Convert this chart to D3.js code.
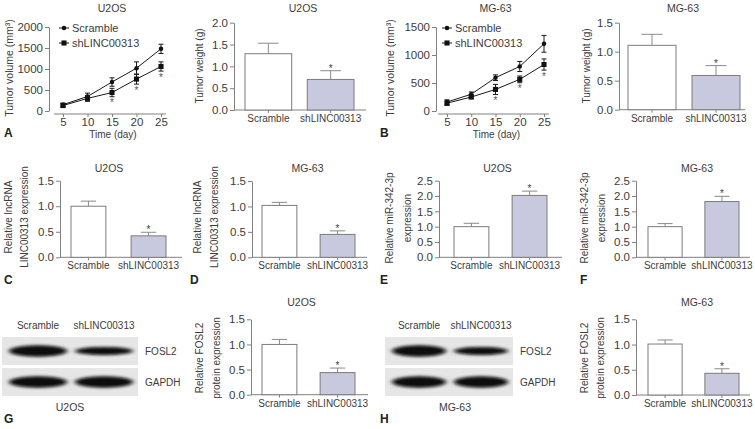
<!DOCTYPE html>
<html>
<head>
<meta charset="utf-8">
<script src="https://cdn.jsdelivr.net/npm/d3@7/dist/d3.min.js"></script>
<style>
  body { margin: 0; background: #fff; }
  svg text { font-family: "Liberation Sans", Arial, sans-serif; fill: #3c3c3c; }
  .axis path, .axis line { stroke: #808080; }
  .axis text { font-size: 11.5px; }
  .cat text { font-size: 10px; }
</style>
</head>
<body>
<svg id="fig" width="755" height="429"></svg>
<script>
const groups = ['Scramble', 'shLINC00313'];
const days = [5, 10, 15, 20, 25];
const sigDays = [15, 20, 25];

// tumour volume (mm3)
const u2osVolScr = [150, 345, 690, 1020, 1480];
const u2osVolScrErr = [40, 80, 100, 150, 110];
const u2osVolSh = [130, 300, 440, 760, 1060];
const u2osVolShErr = [40, 70, 100, 120, 110];
const mgVolScr = [160, 300, 595, 795, 1200];
const mgVolScrErr = [40, 40, 50, 90, 150];
const mgVolSh = [140, 250, 385, 565, 830];
const mgVolShErr = [40, 30, 90, 60, 100];

// tumour weight (g)
const u2osWeight = [1.29, 0.70];
const u2osWeightErr = [0.24, 0.20];
const mgWeight = [1.11, 0.59];
const mgWeightErr = [0.19, 0.17];

// relative lncRNA LINC00313
const u2osLnc = [1.0, 0.42];
const u2osLncErr = [0.1, 0.07];
const mgLnc = [1.02, 0.45];
const mgLncErr = [0.06, 0.07];

// relative miR-342-3p
const u2osMir = [1.0, 2.02];
const u2osMirErr = [0.11, 0.14];
const mgMir = [1.0, 1.82];
const mgMirErr = [0.1, 0.17];

// relative FOSL2 protein
const u2osFosl = [1.0, 0.44];
const u2osFoslErr = [0.1, 0.09];
const mgFosl = [1.01, 0.43];
const mgFoslErr = [0.08, 0.09];

// western blot band strength (relative)
const blotRows = ['FOSL2', 'GAPDH'];
const u2osBands = [[1.0, 0.7], [1.0, 1.0]];
const mgBands = [[1.0, 0.7], [1.0, 1.0]];

const svg = d3.select('#fig');

const defs = svg.append('defs');
defs.append('filter').attr('id', 'blur').attr('x', '-20%').attr('y', '-60%').attr('width', '140%').attr('height', '220%')
  .append('feGaussianBlur').attr('stdDeviation', '2.6 1.5');

function label(x, y, txt, size, opts = {}) {
  const t = svg.append('text').attr('x', x).attr('y', y)
    .attr('text-anchor', opts.anchor || 'middle')
    .style('font-size', size + 'px')
    .text(txt);
  if (opts.bold) t.style('font-weight', 'bold');
  if (opts.rotate) t.attr('transform', `rotate(-90,${x},${y})`);
  return t;
}

function barPanel(o) {
  const g = svg.append('g');
  const y = d3.scaleLinear().domain([0, o.max]).range([o.y0, o.yTop]);
  const x = d3.scaleBand().domain(groups).range(o.band).paddingInner(o.pad);

  g.append('g').attr('class', 'axis')
    .attr('transform', `translate(${o.ax},0)`)
    .call(d3.axisLeft(y).tickValues(d3.range(0, o.max + 0.001, 0.5))
      .tickFormat(d3.format('.1f')).tickSize(4).tickPadding(2).tickSizeOuter(0));

  const xg = g.append('g').attr('class', 'axis cat')
    .attr('transform', `translate(0,${o.y0})`)
    .call(d3.axisBottom(x).tickSize(3).tickPadding(2).tickSizeOuter(0));
  xg.select('.domain').remove();
  xg.append('line').attr('x1', o.ax).attr('x2', o.xEnd).attr('stroke', '#808080');

  // error bars (upper only)
  const cap = x.bandwidth() * 0.22;
  groups.forEach((d, i) => {
    const cx = x(d) + x.bandwidth() / 2;
    const top = y(o.vals[i] + o.err[i]);
    g.append('line').attr('x1', cx).attr('x2', cx)
      .attr('y1', y(o.vals[i])).attr('y2', top).attr('stroke', '#8a8a8a');
    g.append('line').attr('x1', cx - cap).attr('x2', cx + cap)
      .attr('y1', top).attr('y2', top).attr('stroke', '#8a8a8a');
  });

  g.selectAll('rect.bar').data(groups).join('rect')
    .attr('class', 'bar')
    .attr('x', d => x(d)).attr('width', x.bandwidth())
    .attr('y', (d, i) => y(o.vals[i]))
    .attr('height', (d, i) => o.y0 - y(o.vals[i]))
    .attr('fill', (d, i) => i ? '#c8c8df' : '#fff')
    .attr('stroke', '#7c7c7c');

  // significance mark over shLINC bar
  const sx = x(groups[1]) + x.bandwidth() / 2;
  label(sx, y(o.vals[1] + o.err[1]) + 1, '*', 10);

  label((o.ax + o.xEnd) / 2 + (o.tdx || 0), o.titleY, o.title, 10.5);
  o.ylab.forEach((t, k) => label(o.ylx[k], o.yly, t, 10, { rotate: true }));
}

function linePanel(o) {
  const g = svg.append('g');
  const x = d3.scaleLinear().domain([5, 25]).range(o.xr);
  const y = d3.scaleLinear().domain([0, o.max]).range([o.y0, o.yTop]);

  g.append('g').attr('class', 'axis')
    .attr('transform', `translate(${o.ax},0)`)
    .call(d3.axisLeft(y).tickValues(d3.range(0, o.max + 1, 500))
      .tickFormat(d3.format('d')).tickSize(4).tickPadding(2).tickSizeOuter(0));

  const xg = g.append('g').attr('class', 'axis')
    .attr('transform', `translate(0,${o.y0 + 3})`)
    .call(d3.axisBottom(x).tickValues(days).tickSize(3).tickPadding(1).tickSizeOuter(0));
  xg.select('.domain').remove();
  xg.append('line').attr('x1', o.xr[0] - 9).attr('x2', o.xr[1] + 5).attr('stroke', '#808080');

  const series = [
    { vals: o.scr, err: o.scrErr, shape: 'circle' },
    { vals: o.sh, err: o.shErr, shape: 'square' }
  ];
  const line = d3.line().x((d, i) => x(days[i])).y(d => y(d));

  series.forEach(s => {
    g.append('path').attr('d', line(s.vals)).attr('fill', 'none')
      .attr('stroke', '#1a1a1a').attr('stroke-width', 1);
    s.vals.forEach((v, i) => {
      const cx = x(days[i]);
      const y1 = y(v + s.err[i]), y2 = y(v - s.err[i]);
      g.append('line').attr('x1', cx).attr('x2', cx).attr('y1', y1).attr('y2', y2)
        .attr('stroke', '#1a1a1a');
      [y1, y2].forEach(yy => g.append('line').attr('x1', cx - 2.5).attr('x2', cx + 2.5)
        .attr('y1', yy).attr('y2', yy).attr('stroke', '#1a1a1a'));
    });
    const sym = d3.symbol().type(s.shape === 'circle' ? d3.symbolCircle : d3.symbolSquare)
      .size(s.shape === 'circle' ? 16 : 26);
    g.selectAll(null).data(s.vals).join('path')
      .attr('d', sym)
      .attr('transform', (d, i) => `translate(${x(days[i])},${y(d)})`)
      .attr('fill', '#111');
  });

  sigDays.forEach(dd => {
    const i = days.indexOf(dd);
    label(x(dd), y(o.sh[i] - o.shErr[i]) + 9.5, '*', 10).style('fill', '#555');
  });

  // legend
  series.forEach((s, k) => {
    const ly = o.legY + k * 15;
    g.append('line').attr('x1', o.legX).attr('x2', o.legX + 10)
      .attr('y1', ly).attr('y2', ly).attr('stroke', '#1a1a1a');
    const sym = d3.symbol().type(s.shape === 'circle' ? d3.symbolCircle : d3.symbolSquare)
      .size(s.shape === 'circle' ? 16 : 26);
    g.append('path').attr('d', sym).attr('transform', `translate(${o.legX + 5},${ly})`).attr('fill', '#111');
    label(o.legX + 13, ly + 4, groups[k], 11, { anchor: 'start' });
  });

  label((o.xr[0] + o.xr[1]) / 2, 12, o.title, 10.5);
  label((o.xr[0] + o.xr[1]) / 2 + 1, 138, 'Time (day)', 10);
  label(o.ylx, 68, 'Tumor volume (mm³)', 10.5, { rotate: true });
}

function blotPanel(o) {
  const g = svg.append('g');
  const lane = d3.scaleBand().domain(groups).range([o.x0 + 4, o.x1 - 2]).paddingInner(0.03);
  const rowY = d3.scaleBand().domain(blotRows).range([337, 396]).paddingInner(0.1);

  blotRows.forEach((r, ri) => {
    g.append('rect').attr('x', o.x0).attr('y', rowY(r)).attr('width', o.x1 - o.x0)
      .attr('height', rowY.bandwidth()).attr('fill', '#e6e6e6');
    groups.forEach((c, ci) => {
      const h = o.bands[ri][ci] * 11.5;
      g.append('ellipse')
        .attr('cx', lane(c) + lane.bandwidth() / 2)
        .attr('cy', rowY(r) + rowY.bandwidth() / 2)
        .attr('rx', lane.bandwidth() / 2 - 3)
        .attr('ry', h / 2)
        .attr('fill', '#080808')
        .attr('filter', 'url(#blur)');
    });
    label(o.x1 + 7, rowY(r) + rowY.bandwidth() / 2 + 4, r, 10, { anchor: 'start' });
  });
  groups.forEach(c => label(lane(c) + lane.bandwidth() / 2, 329, c, 10));
  label(o.cellX, 411, o.cell, 10.5);
}

linePanel({ ax: 49, xr: [63, 161], y0: 111, yTop: 27, max: 2000, title: 'U2OS', ylx: 13,
  legX: 59, legY: 28, scr: u2osVolScr, scrErr: u2osVolScrErr, sh: u2osVolSh, shErr: u2osVolShErr });
linePanel({ ax: 436, xr: [447, 544], y0: 111, yTop: 27, max: 1500, title: 'MG-63', ylx: 394,
  legX: 442, legY: 28, scr: mgVolScr, scrErr: mgVolScrErr, sh: mgVolSh, shErr: mgVolShErr });

barPanel({ ax: 234, xEnd: 366, y0: 110, yTop: 22.7, max: 2.0, band: [245, 354], pad: 0.25,
  vals: u2osWeight, err: u2osWeightErr, title: 'U2OS', titleY: 12, tdx: 3,
  ylab: ['Tumor weight (g)'], ylx: [203], yly: 66 });
barPanel({ ax: 619, xEnd: 745, y0: 109.7, yTop: 22.7, max: 1.5, band: [628, 740], pad: 0.25,
  vals: mgWeight, err: mgWeightErr, title: 'MG-63', titleY: 12, tdx: 1,
  ylab: ['Tumor weight (g)'], ylx: [590], yly: 66 });

barPanel({ ax: 60, xEnd: 182, y0: 257.3, yTop: 180.7, max: 1.5, band: [71, 166], pad: 0.42,
  vals: u2osLnc, err: u2osLncErr, title: 'U2OS', titleY: 172, tdx: -12,
  ylab: ['Relative lncRNA', 'LINC00313 expression'], ylx: [12, 28], yly: 217 });
barPanel({ ax: 252, xEnd: 367, y0: 257.3, yTop: 181, max: 1.5, band: [262, 355], pad: 0.4,
  vals: mgLnc, err: mgLncErr, title: 'MG-63', titleY: 172, tdx: -2,
  ylab: ['Relative lncRNA', 'LINC00313 expression'], ylx: [201, 218], yly: 217 });
barPanel({ ax: 439, xEnd: 562, y0: 257.3, yTop: 180.7, max: 2.5, band: [454, 547], pad: 0.4,
  vals: u2osMir, err: u2osMirErr, title: 'U2OS', titleY: 172, tdx: -3,
  ylab: ['Relative miR-342-3p', 'expression'], ylx: [393, 411], yly: 218 });
barPanel({ ax: 636, xEnd: 750, y0: 257.3, yTop: 180.7, max: 2.5, band: [648, 739], pad: 0.4,
  vals: mgMir, err: mgMirErr, title: 'MG-63', titleY: 172, tdx: 4,
  ylab: ['Relative miR-342-3p', 'expression'], ylx: [588, 605], yly: 218 });

barPanel({ ax: 251, xEnd: 368, y0: 394.7, yTop: 319.3, max: 1.5, band: [262, 355], pad: 0.4,
  vals: u2osFosl, err: u2osFoslErr, title: 'U2OS', titleY: 306, tdx: -8,
  ylab: ['Relative FOSL2', 'protein expression'], ylx: [203, 220], yly: 358 });
barPanel({ ax: 636, xEnd: 750, y0: 395, yTop: 319.3, max: 1.5, band: [648, 739], pad: 0.4,
  vals: mgFosl, err: mgFoslErr, title: 'MG-63', titleY: 306, tdx: 4,
  ylab: ['Relative FOSL2', 'protein expression'], ylx: [588, 604], yly: 358 });

blotPanel({ x0: 2, x1: 138, bands: u2osBands, cell: 'U2OS', cellX: 70 });
blotPanel({ x0: 385, x1: 513, bands: mgBands, cell: 'MG-63', cellX: 455 });

// panel letters
[['A', 4, 137], ['B', 380, 137], ['C', 4, 284], ['D', 190, 284], ['E', 380, 284],
 ['F', 580, 284], ['G', 4, 423], ['H', 380, 423]].forEach(([t, x, y]) =>
  label(x, y, t, 12, { anchor: 'start', bold: true }).style('fill', '#222'));
</script>
</body>
</html>
